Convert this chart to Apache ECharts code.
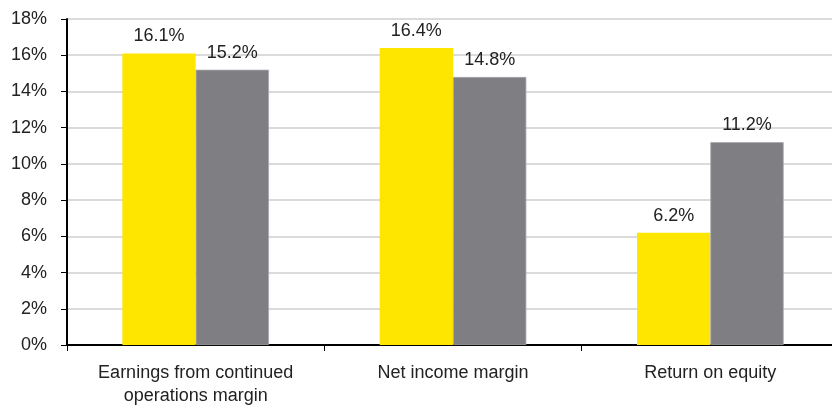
<!DOCTYPE html>
<html><head><meta charset="utf-8">
<script src="https://cdn.jsdelivr.net/npm/echarts@6/dist/echarts.min.js"></script>
<style>html,body{margin:0;padding:0;background:#fff;overflow:hidden}#c{width:839px;height:408px}</style>
</head><body><div id="c"></div>
<script>
var categories = ['Earnings from continued\noperations margin', 'Net income margin', 'Return on equity'];
var seriesA = [16.1, 16.4, 6.2];
var seriesB = [15.2, 14.8, 11.2];
var yTicks = [0, 2, 4, 6, 8, 10, 12, 14, 16, 18];

var FONT = '"Liberation Sans Narrow", "Arial Narrow", "Liberation Sans", Arial, sans-serif';
var chart = echarts.init(document.getElementById('c'), null, {renderer: 'canvas'});
function lbl() {
  return {show: true, position: 'top', distance: 8, color: '#222', fontFamily: FONT, fontSize: 18,
    formatter: function (p) { return p.value.toFixed(1) + '%'; }};
}
chart.setOption({
  animation: false,
  grid: {left: 67, right: 0, top: 19, bottom: 63, containLabel: false},
  xAxis: {
    type: 'category', data: categories,
    axisLine: {lineStyle: {color: '#000', width: 2}},
    axisTick: {show: true, length: 6, lineStyle: {color: '#000', width: 1}},
    axisLabel: {color: '#222', fontFamily: FONT, fontSize: 18, margin: 17, lineHeight: 23, interval: 0}
  },
  yAxis: {
    type: 'value', min: yTicks[0], max: yTicks[yTicks.length - 1], interval: 2,
    axisLine: {show: true, lineStyle: {color: '#000', width: 2}},
    axisTick: {show: true, length: 6, lineStyle: {color: '#000', width: 1}},
    axisLabel: {color: '#222', fontFamily: FONT, fontSize: 18, margin: 20,
      formatter: function (v) { return v + '%'; }},
    splitLine: {show: true, lineStyle: {color: '#cfcfcf', width: 1.5}}
  },
  series: [
    {type: 'bar', data: seriesA, barGap: '0%', barCategoryGap: '43%',
      itemStyle: {color: '#FFE600'}, label: lbl()},
    {type: 'bar', data: seriesB, barGap: '0%', barCategoryGap: '43%',
      itemStyle: {color: '#7F7E83', borderColor: '#a9a8ac', borderWidth: 0.8}, label: lbl()}
  ]
});
</script></body></html>
